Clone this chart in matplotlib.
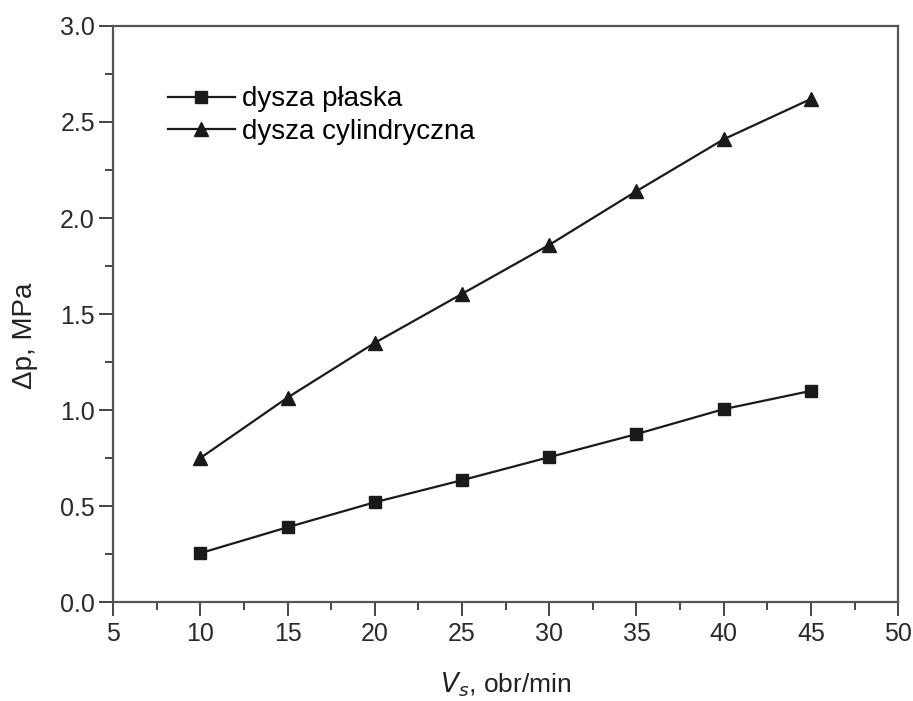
import numpy as np
import matplotlib.pyplot as plt
from matplotlib.ticker import MultipleLocator

plt.rcParams['font.family'] = ['Liberation Sans', 'DejaVu Sans']

# Data
vs = np.array([10, 15, 20, 25, 30, 35, 40, 45])
dp_plaska = np.array([0.255, 0.39, 0.52, 0.635, 0.755, 0.875, 1.005, 1.10])
dp_cyl = np.array([0.75, 1.065, 1.35, 1.605, 1.86, 2.14, 2.41, 2.62])

fig = plt.figure(figsize=(9.13, 7.01), dpi=100)
ax = fig.add_axes([0.1238, 0.141, 0.860, 0.822])

ax.plot(vs, dp_plaska, color='#1a1a1a', lw=1.6, marker='s', markersize=9,
        label='dysza płaska')
ax.plot(vs, dp_cyl, color='#1a1a1a', lw=1.6, marker='^', markersize=10,
        label='dysza cylindryczna')

ax.set_xlim(5, 50)
ax.set_ylim(0, 3.0)
ax.xaxis.set_major_locator(MultipleLocator(5))
ax.xaxis.set_minor_locator(MultipleLocator(2.5))
ax.yaxis.set_major_locator(MultipleLocator(0.5))
ax.yaxis.set_minor_locator(MultipleLocator(0.25))
ax.yaxis.set_major_formatter(plt.FormatStrFormatter('%.1f'))
ax.tick_params(which='major', direction='out', length=10, width=1.4,
               labelsize=18, colors='#444444', labelcolor='#2a2a2a')
ax.tick_params(which='minor', direction='out', length=6, width=1.4, colors='#444444')
ax.tick_params(axis='x', pad=4)
ax.tick_params(axis='y', pad=3)
for s in ax.spines.values():
    s.set_linewidth(1.6)
    s.set_color('#555555')

ax.set_xlabel('$V_s$, obr/min', fontsize=19, color='#222222', labelpad=18)
ax.set_ylabel('Δp, MPa', fontsize=20, color='#222222')
ax.yaxis.set_label_coords(-0.095, 0.462)

ax.legend(loc='upper left', bbox_to_anchor=(0.07, 0.895), frameon=False,
          borderaxespad=0, borderpad=0,
          fontsize=20, handlelength=2.4, handletextpad=0.25, labelspacing=0.22)

fig.savefig('out.png', dpi=100)
